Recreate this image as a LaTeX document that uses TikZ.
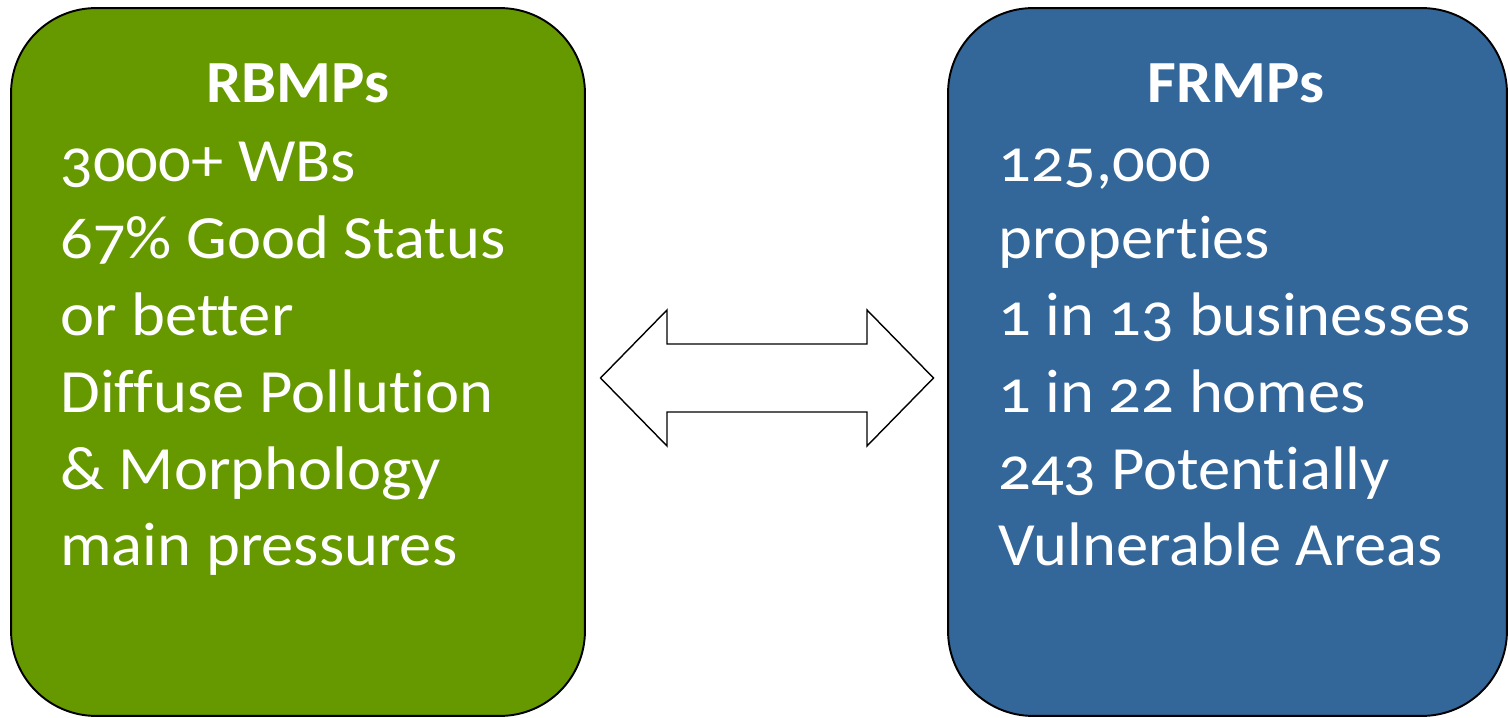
\documentclass[tikz,border=0pt]{standalone}
\usepackage{fontspec}
\setmainfont[Numbers=OldStyle,FakeStretch=1.05,Ligatures=NoCommon]{Carlito}
\usetikzlibrary{positioning}
\definecolor{rbmpgreen}{HTML}{669900}
\definecolor{frmpblue}{HTML}{336699}
\tikzset{
  plan/.style={draw=black,line width=1.1pt,rounded corners=1.7cm,
    minimum height=14.16cm,inner sep=0pt},
  heading/.style={text=white,font=\fontsize{34}{40}\selectfont\bfseries},
  facts/.style={text=white,align=left,inner sep=0pt,
    font=\fontsize{35}{43.8}\selectfont},
  twoway/.style={draw=black,fill=white,line width=0.8pt,line join=miter}
}

\begin{document}
\begin{tikzpicture}[x=0.02cm,y=0.02cm]
    \useasboundingbox (0,0) rectangle (1508,717);
    % the two plans
    \node[plan,fill=rbmpgreen,minimum width=11.48cm] (rbmp) at (298,355) {};
    \node[plan,fill=frmpblue,minimum width=11.18cm] (frmp) at (1227.5,355) {};

    \node[heading,anchor=base] (rbmptitle) at (298,614) {RBMPs};
    \node[heading,anchor=base] (frmptitle) at (1236,614) {FRMPs};

    \node[facts,anchor=base west] (rbmpfacts) at (60,151)
      {3000+ WBs\\67\% Good Status\\or better\\Diffuse Pollution\\
       \& Morphology\\main pressures};
    \node[facts,anchor=base west] (frmpfacts) at (998,151)
      {125,000\\properties\\1 in 13 businesses\\1 in 22 homes\\
       243 Potentially\\Vulnerable Areas};

    % link between them
    \coordinate (link) at (767,339);
    \begin{scope}[shift={(link)}]
      \draw[twoway] (-166.5,0) -- (-100,68) -- (-100,34) -- (100,34)
        -- (100,68) -- (166.5,0) -- (100,-68) -- (100,-34)
        -- (-100,-34) -- (-100,-68) -- cycle;
    \end{scope}
\end{tikzpicture}
\end{document}
